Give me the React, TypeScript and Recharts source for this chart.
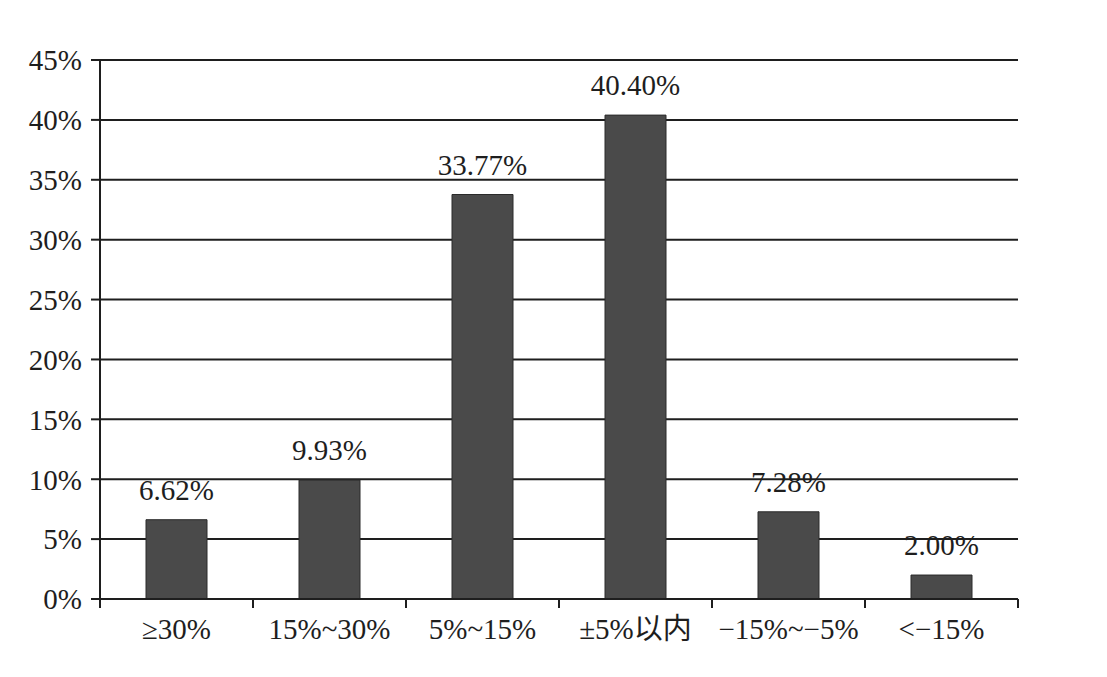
import { BarChart, Bar, XAxis, YAxis, CartesianGrid, LabelList } from 'recharts';

const categories = ['≥30%', '15%~30%', '5%~15%', '±5%以内', '−15%~−5%', '<−15%'];
const shares = [6.62, 9.93, 33.77, 40.4, 7.28, 2.0];
const yTicks = [0, 5, 10, 15, 20, 25, 30, 35, 40, 45];

const data = categories.map((name, i) => ({ name, value: shares[i] }));

const W = 1090;
const H = 660;
const margin = { top: 52, right: 80, left: 12, bottom: 9 };
const yAxisWidth = 80;
const plotW = W - margin.left - margin.right - yAxisWidth;
const step = plotW / categories.length;

const font = '"Liberation Serif", "Times New Roman", "Noto Sans CJK SC", serif';
const ink = '#1e1e1e';

const CategoryTick = (props: any) => {
  const { x, y, payload, index } = props;
  const top = y - 19;
  return (
    <g>
      <line x1={x - step / 2} y1={top} x2={x - step / 2} y2={top + 9} stroke={ink} strokeWidth={2} />
      {index === categories.length - 1 && (
        <line x1={x + step / 2} y1={top} x2={x + step / 2} y2={top + 9} stroke={ink} strokeWidth={2} />
      )}
      <text x={x} y={y} dy="0.71em" textAnchor="middle" fill={ink} fontSize={29} fontFamily={font}>
        {payload.value}
      </text>
    </g>
  );
};

export default function App() {
  return (
    <div style={{ width: W, height: H, background: '#fff' }}>
      <BarChart width={W} height={H} data={data} margin={margin} barCategoryGap={0}>
        <CartesianGrid vertical={false} stroke={ink} strokeWidth={2} />
        <XAxis
          dataKey="name"
          height={60}
          tickLine={false}
          tickSize={0}
          tickMargin={19}
          axisLine={{ stroke: ink, strokeWidth: 2 }}
          tick={<CategoryTick />}
          interval={0}
        />
        <YAxis
          width={yAxisWidth}
          domain={[0, 45]}
          ticks={yTicks}
          interval={0}
          tickFormatter={(v: number) => `${v}%`}
          tickSize={9}
          tickMargin={9}
          tickLine={{ stroke: ink, strokeWidth: 2 }}
          axisLine={{ stroke: ink, strokeWidth: 2 }}
          tick={{ fill: ink, fontSize: 29, fontFamily: font }}
        />
        <Bar dataKey="value" fill="#4a4a4a" stroke="#2a2a2a" strokeWidth={1} barSize={61} isAnimationActive={false}>
          <LabelList
            dataKey="value"
            position="top"
            offset={20}
            formatter={(v: any) => `${Number(v).toFixed(2)}%`}
            style={{ fill: ink, fontSize: 29, fontFamily: font }}
          />
        </Bar>
      </BarChart>
    </div>
  );
}
